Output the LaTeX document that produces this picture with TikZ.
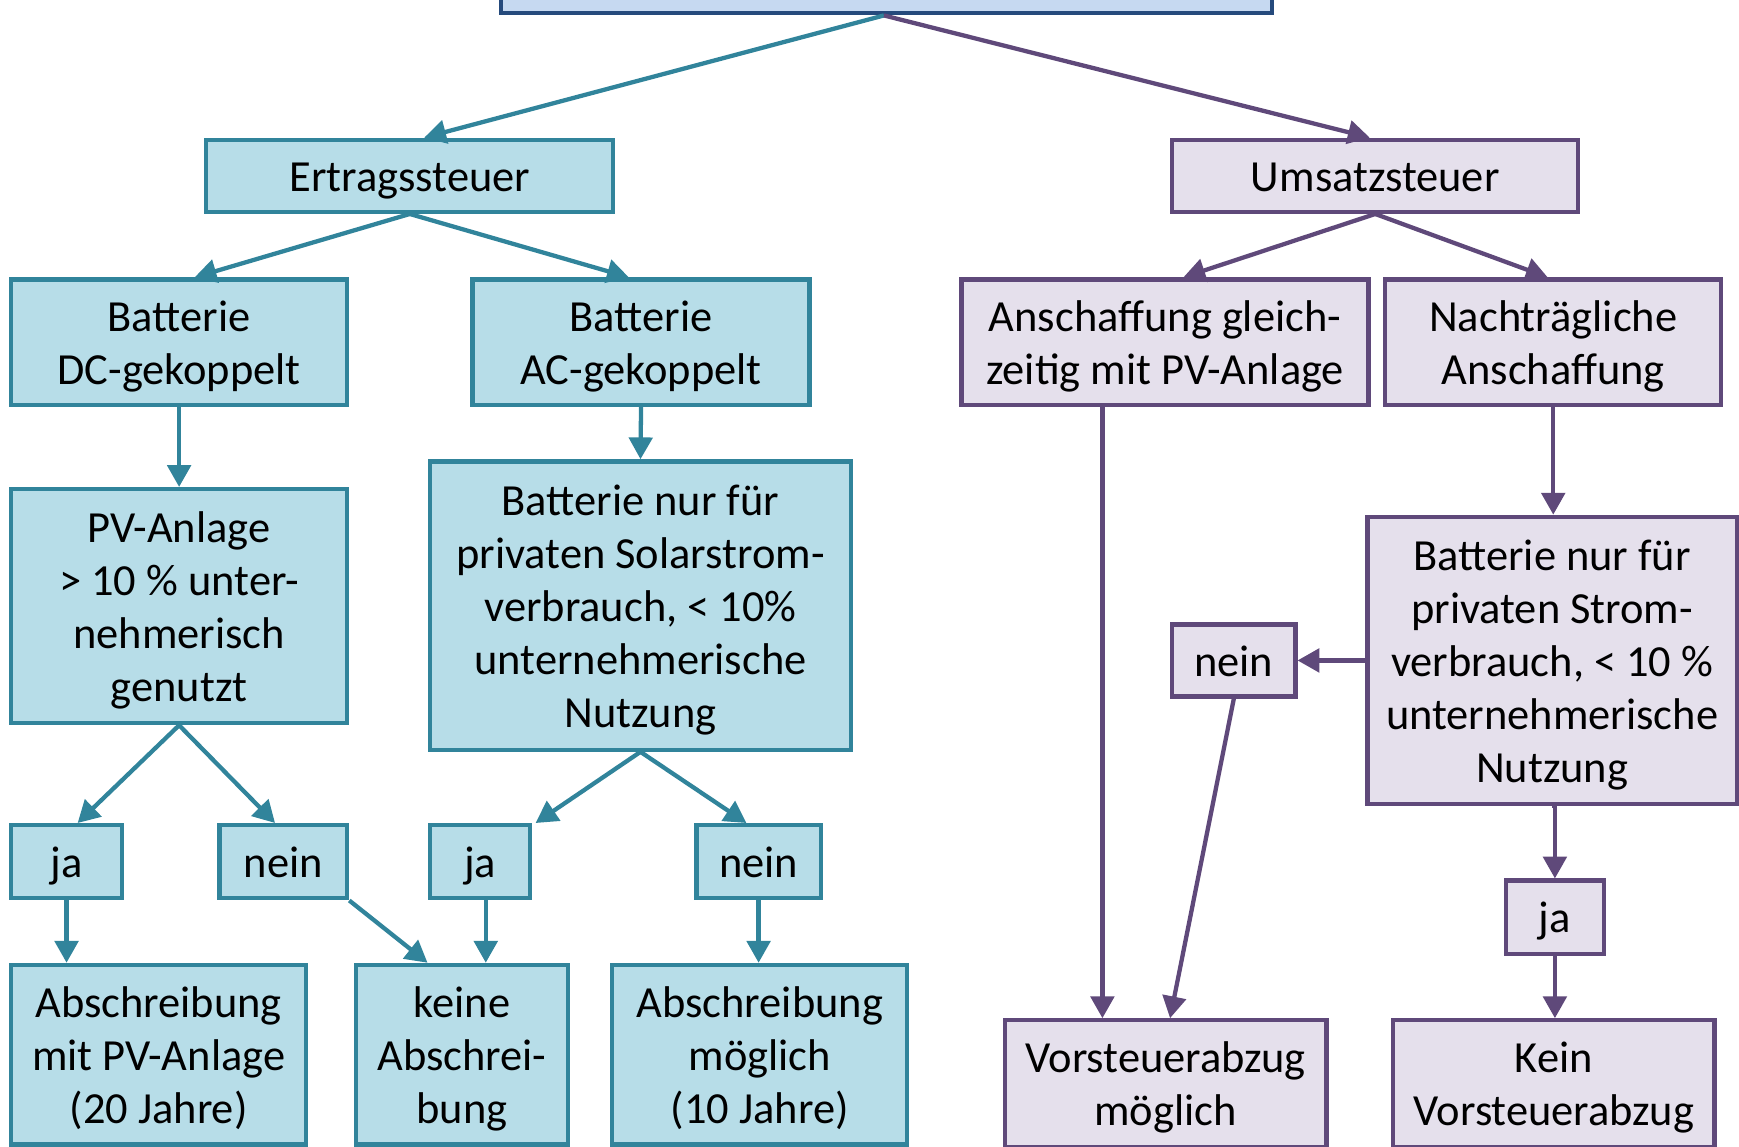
\documentclass[tikz,border=0pt]{standalone}
\usepackage{fontspec}
\setmainfont{Carlito}
\usepackage{tikz}
\usetikzlibrary{positioning,arrows.meta}
\definecolor{tealline}{HTML}{31849B}
\definecolor{tealfill}{HTML}{B7DDE8}
\definecolor{lilaline}{HTML}{5F497A}
\definecolor{lilafill}{HTML}{E5E0EC}
\definecolor{topline}{HTML}{254A7C}
\definecolor{topfill}{HTML}{C6D9F1}
% line struts, so that text sits as in the original slide
\newcommand{\hi}{\rule{0pt}{10.8pt}}
\newcommand{\lo}{\rule[-2.8pt]{0pt}{2.8pt}}

\begin{document}
\begin{tikzpicture}[
  font=\fontsize{11.4}{13.6}\selectfont,
  box/.style={draw, line width=1.1pt, align=center, inner sep=1pt},
  wh/.style 2 args={minimum width=#1cm, minimum height=#2cm},
  ebox/.style={box, draw=tealline, fill=tealfill},
  ubox/.style={box, draw=lilaline, fill=lilafill},
  tarr/.style={draw=tealline, line width=1.1pt, -{Triangle[length=5.6pt,width=6pt]}},
  uarr/.style={draw=lilaline, line width=1.1pt, -{Triangle[length=5.6pt,width=6pt]}}
]
\useasboundingbox (0,0) rectangle (15.68,-10.34);

% top
\node[box, draw=topline, fill=topfill, wh={6.95}{0.65}] (top) at (7.995,0.205) {};

% Ertragssteuer
\node[ebox, wh={3.67}{0.65}] (ert) at (3.695,-1.585) {\hi Ertragssteuer\lo};
\node[ebox, wh={3.03}{1.13}] (dc) at (1.615,-3.085) {\hi Batterie\\DC-gekoppelt\lo};
\node[ebox, wh={3.04}{1.13}] (ac) at (5.78,-3.085) {\hi Batterie\\AC-gekoppelt\lo};
\node[ebox, wh={3.03}{2.11}] (pv) at (1.615,-5.465) {\hi PV-Anlage\\> 10 \% unter-\\nehmerisch\\genutzt\lo};
\node[ebox, wh={3.79}{2.60}] (bat1) at (5.775,-5.46) {\hi Batterie nur für\\privaten Solarstrom-\\verbrauch, < 10\%\\unternehmerische\\Nutzung\lo};
\node[ebox, wh={1.00}{0.66}] (ja1) at (0.60,-7.77) {\hi ja\lo};
\node[ebox, wh={1.15}{0.66}] (nein1) at (2.555,-7.77) {\hi nein\lo};
\node[ebox, wh={0.90}{0.66}] (ja2) at (4.33,-7.77) {\hi ja\lo};
\node[ebox, wh={1.12}{0.66}] (nein2) at (6.84,-7.77) {\hi nein\lo};
\node[ebox, wh={2.66}{1.62}] (abs1) at (1.43,-9.51) {\hi Abschreibung\\mit PV-Anlage\\(20 Jahre)\lo};
\node[ebox, wh={1.91}{1.62}] (keine) at (4.165,-9.51) {\hi keine\\Abschrei-\\bung\lo};
\node[ebox, wh={2.66}{1.62}] (abs2) at (6.85,-9.51) {\hi Abschreibung\\möglich\\(10 Jahre)\lo};

% Umsatzsteuer
\node[ubox, wh={3.66}{0.65}] (ust) at (12.40,-1.585) {\hi Umsatzsteuer\lo};
\node[ubox, wh={3.67}{1.13}] (ansch) at (10.505,-3.085) {\hi Anschaffung gleich-\\zeitig mit PV-Anlage\lo};
\node[ubox, wh={3.03}{1.13}] (nach) at (14.005,-3.085) {\hi Nachträgliche\\Anschaffung\lo};
\node[ubox, wh={3.33}{2.59}] (bat2) at (13.995,-5.955) {\hi Batterie nur für\\privaten Strom-\\verbrauch, < 10 \%\\unternehmerische\\Nutzung\lo};
\node[ubox, wh={1.11}{0.65}] (nein3) at (11.125,-5.955) {\hi nein\lo};
\node[ubox, wh={0.88}{0.66}] (ja3) at (14.02,-8.27) {\hi ja\lo};
\node[ubox, wh={2.90}{1.14}] (vst) at (10.51,-9.77) {\hi Vorsteuerabzug\\möglich\lo};
\node[ubox, wh={2.90}{1.14}] (kein) at (14.01,-9.77) {\hi Kein\\Vorsteuerabzug\lo};

% arrows left
\draw[tarr] ([xshift=-0.025cm]top.south) -- ([xshift=0.13cm]ert.north);
\draw[tarr] (ert.south) -- ([xshift=0.14cm]dc.north);
\draw[tarr] (ert.south) -- ([xshift=-0.11cm]ac.north);
\draw[tarr] (dc.south) -- (pv.north);
\draw[tarr] (ac.south) -- (bat1.north);
\draw[tarr] (pv.south) -- ([xshift=0.1cm]ja1.north);
\draw[tarr] (pv.south) -- ([xshift=-0.075cm]nein1.north);
\draw[tarr] (bat1.south) -- ([xshift=0.03cm]ja2.north east);
\draw[tarr] (bat1.south) -- ([xshift=-0.11cm]nein2.north);
\draw[tarr] (ja1.south) -- (ja1.south |- abs1.north);
\draw[tarr] (nein1.south east) -- ([xshift=-0.31cm]keine.north);
\draw[tarr] ([xshift=0.05cm]ja2.south) -- ([xshift=0.05cm]ja2.south |- keine.north);
\draw[tarr] (nein2.south) -- (nein2.south |- abs2.north);

% arrows right
\draw[uarr] ([xshift=-0.025cm]top.south) -- ([xshift=-0.05cm]ust.north);
\draw[uarr] (ust.south) -- ([xshift=0.165cm]ansch.north);
\draw[uarr] (ust.south) -- ([xshift=-0.05cm]nach.north);
\draw[uarr] ([xshift=-0.565cm]ansch.south) -- ([xshift=-0.565cm]ansch.south |- vst.north);
\draw[uarr] (nach.south) -- (nach.south |- bat2.north);
\draw[uarr] (bat2.west) -- (nein3.east);
\draw[uarr] (nein3.south) -- ([xshift=0.04cm]vst.north);
\draw[uarr] (bat2.south) -- (bat2.south -| ja3.north) -- (ja3.north);
\draw[uarr] (ja3.south) -- (ja3.south |- kein.north);
\end{tikzpicture}
\end{document}
